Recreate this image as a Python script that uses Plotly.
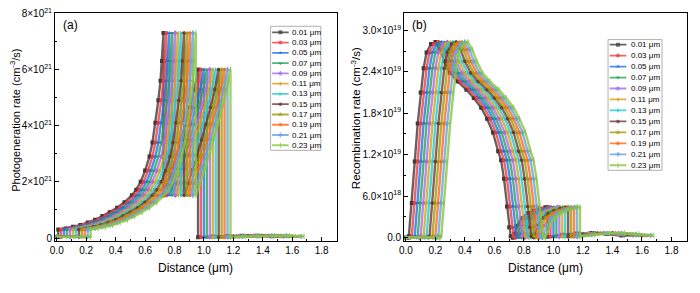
import plotly.graph_objects as go

# ---------------- data ----------------
thickness = [0.01, 0.03, 0.05, 0.07, 0.09, 0.11, 0.13, 0.15, 0.17, 0.19, 0.21, 0.23]
labels = ["0.01 μm", "0.03 μm", "0.05 μm", "0.07 μm", "0.09 μm", "0.11 μm",
          "0.13 μm", "0.15 μm", "0.17 μm", "0.19 μm", "0.21 μm", "0.23 μm"]

# layer boundaries measured from the end of the variable layer (µm)
abs_end = 0.715
etl_end = 0.95

# (a) photogeneration rate, units of 1e21 cm^-3/s
gen_layer1 = 0.04
gen_abs_dx = [0.0, 0.05, 0.10, 0.15, 0.20, 0.25, 0.30, 0.35, 0.40, 0.45, 0.50, 0.53,
              0.56, 0.59, 0.62, 0.64, 0.66, 0.68, 0.695, 0.705, 0.715]
gen_abs_y = [0.30, 0.34, 0.40, 0.46, 0.55, 0.65, 0.78, 0.92, 1.08, 1.27, 1.52, 1.72,
             2.00, 2.40, 2.90, 3.40, 4.10, 4.90, 5.60, 6.30, 7.30]
gen_etl_dx = [0.0, 0.03, 0.06, 0.09, 0.12, 0.15, 0.18, 0.21, 0.235]
gen_etl_y = [1.52, 1.95, 2.45, 2.95, 3.50, 4.05, 4.65, 5.30, 6.00]
gen_tail_dx = [0.0, 0.1, 0.2, 0.3, 0.4, 0.5]
gen_tail_y = [0.03, 0.05, 0.07, 0.08, 0.08, 0.06]

# (b) recombination rate, units of 1e19 cm^-3/s
rec_layer1 = 0.0
rec_abs_dx = [0.0, 0.01, 0.03, 0.05, 0.07, 0.09, 0.11, 0.13, 0.16, 0.19, 0.22, 0.25, 0.29,
              0.34, 0.40, 0.45, 0.50, 0.54, 0.58, 0.615, 0.635, 0.655, 0.675, 0.69, 0.70, 0.715]
rec_abs_y = [0.0, 0.02, 0.50, 1.10, 1.65, 2.10, 2.45, 2.68, 2.80, 2.83, 2.72, 2.55, 2.38,
             2.26, 2.14, 2.02, 1.88, 1.72, 1.52, 1.25, 1.12, 0.85, 0.45, 0.15, 0.02, 0.0]
rec_etl_dx = [0.0, 0.01, 0.03, 0.06, 0.10, 0.14, 0.18, 0.22, 0.235]
rec_etl_y = [0.0, 0.05, 0.17, 0.28, 0.35, 0.39, 0.42, 0.44, 0.44]
rec_tail_dx = [0.0, 0.1, 0.2, 0.3, 0.4, 0.5]
rec_tail_y = [0.01, 0.04, 0.06, 0.065, 0.05, 0.03]

gen_ticks = [0, 2e21, 4e21, 6e21, 8e21]
gen_ticktext = ["0", "2×10<sup>21</sup>", "4×10<sup>21</sup>", "6×10<sup>21</sup>", "8×10<sup>21</sup>"]
rec_ticks = [0, 6e18, 1.2e19, 1.8e19, 2.4e19, 3.0e19]
rec_ticktext = ["0.0", "6.0×10<sup>18</sup>", "1.2×10<sup>19</sup>", "1.8×10<sup>19</sup>",
                "2.4×10<sup>19</sup>", "3.0×10<sup>19</sup>"]
x_ticks = [0.0, 0.2, 0.4, 0.6, 0.8, 1.0, 1.2, 1.4, 1.6, 1.8]

# ---------------- styles ----------------
colors = ["#3c3c3c", "#f23b3b", "#2b6de0", "#22a35c", "#a86de8", "#d6a01a",
          "#1fcbcb", "#6e3838", "#9a9a12", "#ff6a12", "#6aa0e0", "#86c83c"]
symbols = ["square", "circle", "triangle-up", "triangle-down", "diamond", "triangle-left",
           "triangle-right", "hexagon", "star", "pentagon", "cross", "line-ns"]


def rgba(hexc, a):
    h = hexc.lstrip("#")
    return f"rgba({int(h[0:2],16)},{int(h[2:4],16)},{int(h[4:6],16)},{a})"


def build(t, l1, a_dx, a_y, e_dx, e_y, tl_dx, tl_y, scale):
    xs = [0.0, t] + [t + d for d in a_dx] + [t + abs_end + d for d in e_dx] + \
         [t + etl_end + d for d in tl_dx]
    ys = [l1, l1] + a_y + e_y + tl_y
    return xs, [v * scale for v in ys]


fig = go.Figure()

for i, t in enumerate(thickness):
    mk = dict(symbol=symbols[i], size=4, color=colors[i],
              line=dict(width=1 if symbols[i] == "line-ns" else 0, color=colors[i]))
    xa, ya = build(t, gen_layer1, gen_abs_dx, gen_abs_y, gen_etl_dx, gen_etl_y,
                   gen_tail_dx, gen_tail_y, 1e21)
    fig.add_trace(go.Scatter(x=xa, y=ya, mode="lines+markers", xaxis="x", yaxis="y",
                             line=dict(color=rgba(colors[i], 0.8), width=2.4),
                             marker=mk, showlegend=False, name=labels[i]))
    xb, yb = build(t, rec_layer1, rec_abs_dx, rec_abs_y, rec_etl_dx, rec_etl_y,
                   rec_tail_dx, rec_tail_y, 1e19)
    fig.add_trace(go.Scatter(x=xb, y=yb, mode="lines+markers", xaxis="x2", yaxis="y2",
                             line=dict(color=rgba(colors[i], 0.8), width=2.4),
                             marker=mk, showlegend=False, name=labels[i]))

# ---------------- layout helpers (page pixel coords; page body has 8px margin) ----------------
BODY = 8
W, H = 700 - BODY, 293 - BODY
PL, PR, PT, PB = 55.0, 687.3, 12.7, 240.7          # plot-area edges in page pixels
ML, MR, MT, MB = PL - BODY, W - (PR - BODY), PT - BODY, H - (PB - BODY)
PW, PH = PR - PL, PB - PT


def px(xp):
    return (xp - PL) / PW


def py(yp):
    return (PB - yp) / PH


# ---------------- custom legends ----------------
legend_specs = [
    # axis suffix, box px (x0, x1, y0, y1), y range, line x0, x1, text x
    ("3", (270.7, 321.0, 26.0, 150.0), [12.49, 0.41], 0.03, 0.36, 0.38),
    ("4", (608.3, 662.3, 39.3, 170.0), [12.46, 0.54], 0.03, 0.34, 0.38),
]
annotations = []
shapes = []
layout_axes = {}
for suf, (bx0, bx1, by0, by1), yr, lx0, lx1, tx in legend_specs:
    layout_axes["xaxis" + suf] = dict(domain=[px(bx0), px(bx1)], range=[0, 1], visible=False,
                                      anchor="y" + suf, fixedrange=True)
    layout_axes["yaxis" + suf] = dict(domain=[py(by1), py(by0)], range=yr, visible=False,
                                      anchor="x" + suf, fixedrange=True)
    shapes.append(dict(type="rect", xref="x" + suf + " domain", yref="y" + suf + " domain",
                       x0=0, x1=1, y0=0, y1=1, line=dict(color="#b0b0b0", width=1),
                       fillcolor="rgba(0,0,0,0)", layer="above"))
    for i, lab in enumerate(labels):
        fig.add_trace(go.Scatter(
            x=[lx0, (lx0 + lx1) / 2, lx1], y=[i + 1] * 3, mode="lines+markers",
            xaxis="x" + suf, yaxis="y" + suf, showlegend=False, hoverinfo="skip",
            line=dict(color=rgba(colors[i], 0.8), width=1.8),
            marker=dict(symbol=symbols[i], size=[0, 4, 0], color=colors[i],
                        line=dict(width=1 if symbols[i] == "line-ns" else 0, color=colors[i]))))
        annotations.append(dict(x=tx, y=i + 1, xref="x" + suf, yref="y" + suf, text=lab,
                                showarrow=False, xanchor="left", yanchor="middle",
                                font=dict(size=8, color="black")))

# panel labels
annotations.append(dict(x=px(61), y=py(25), xref="paper", yref="paper", text="(a)",
                        showarrow=False, xanchor="left", yanchor="middle",
                        font=dict(size=12, color="black")))
annotations.append(dict(x=px(410), y=py(25), xref="paper", yref="paper", text="(b)",
                        showarrow=False, xanchor="left", yanchor="middle",
                        font=dict(size=12, color="black")))

# axis titles
annotations.append(dict(x=px(196), y=py(268), xref="paper", yref="paper", text="Distance (μm)",
                        showarrow=False, xanchor="center", yanchor="middle",
                        font=dict(size=12, color="black")))
annotations.append(dict(x=px(545.5), y=py(268), xref="paper", yref="paper", text="Distance (μm)",
                        showarrow=False, xanchor="center", yanchor="middle",
                        font=dict(size=12, color="black")))
annotations.append(dict(x=px(15.5), y=py(120), xref="paper", yref="paper",
                        text="Photogeneration rate (cm<sup>-3</sup>/s)", textangle=-90,
                        showarrow=False, xanchor="center", yanchor="middle",
                        font=dict(size=11, color="black")))
annotations.append(dict(x=px(356), y=py(118), xref="paper", yref="paper",
                        text="Recombination rate (cm<sup>-3</sup>/s)", textangle=-90,
                        showarrow=False, xanchor="center", yanchor="middle",
                        font=dict(size=11.5, color="black")))

axis_common = dict(showline=True, linecolor="black", linewidth=1, mirror=True,
                   ticks="inside", ticklen=4, tickcolor="black", showgrid=False,
                   zeroline=False, tickfont=dict(size=10, color="black"), automargin=False,
                   ticklabeloverflow="allow")

xr = [-0.012, 1.905]
fig.update_layout(
    width=W, height=H, margin=dict(l=ML, r=MR, t=MT, b=MB, autoexpand=False),
    paper_bgcolor="white", plot_bgcolor="white",
    font=dict(family="Liberation Sans, Arial, sans-serif", color="black"),
    xaxis=dict(domain=[0, px(337.3)], range=xr, tickvals=x_ticks,
               ticktext=[f"{v:.1f}" for v in x_ticks],
               minor=dict(dtick=0.1, ticks="inside", ticklen=2, tickcolor="black"),
               anchor="y", **axis_common),
    yaxis=dict(domain=[0, 1], range=[-0.106e21, 8.01e21], tickvals=gen_ticks, ticktext=gen_ticktext,
               minor=dict(dtick=1e21, tick0=0, ticks="inside", ticklen=2, tickcolor="black"),
               anchor="x", **axis_common),
    xaxis2=dict(domain=[px(404.3), 1], range=xr, tickvals=x_ticks,
                ticktext=[f"{v:.1f}" for v in x_ticks],
                minor=dict(dtick=0.1, ticks="inside", ticklen=2, tickcolor="black"),
                anchor="y2", **axis_common),
    yaxis2=dict(domain=[0, 1], range=[-0.05e19, 3.25e19], tickvals=rec_ticks, ticktext=rec_ticktext,
                minor=dict(dtick=3e18, tick0=0, ticks="inside", ticklen=2, tickcolor="black"),
                anchor="x2", **axis_common),
    annotations=annotations, shapes=shapes,
    **layout_axes,
)

fig.write_html("out.html")
